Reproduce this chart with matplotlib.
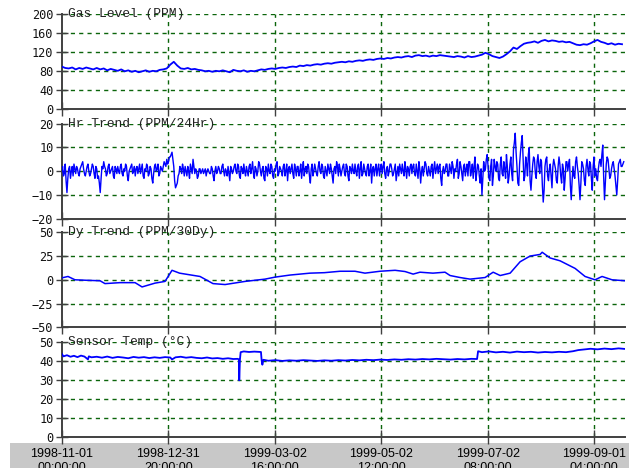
import numpy as np
import pandas as pd
import matplotlib
matplotlib.use('Agg')
from matplotlib import pyplot as plt
from matplotlib import dates as mdates
from matplotlib.patches import Rectangle

START = pd.Timestamp('1998-11-01 00:00:00')
SPAN_DAYS = 321.7

# tick spacing of the original logger software: 60 days 20 hours
TICK_STEP = pd.Timedelta(days=60, hours=20)
N_TICKS = 6

# Gas Level (PPM), one reading every ~2 days
gas_level = [
    90, 87, 86, 88, 84, 87, 85, 88, 86, 84, 87,
    84, 86, 82, 85, 83, 81, 84, 80, 82,
    79, 81, 78, 80, 82, 79, 81, 80, 83, 84,
    86, 94, 100, 92, 86,
    85, 87, 84, 85, 83, 82, 80, 81,
    79, 81, 80, 82, 80, 78, 83, 81, 80, 82, 79, 81, 80,
    82, 84, 83, 85, 86, 85, 87, 88, 87, 89, 90, 89, 92,
    91, 93, 92, 94, 95, 94, 96, 97, 96, 98, 99, 100,
    99, 101, 100, 102, 103, 102, 104, 105, 104, 106, 107, 106,
    108, 107, 109, 110, 109, 111, 112, 110, 113, 114,
    112, 113, 111, 113, 112, 114, 113, 112,
    111, 110, 112, 111, 109, 112, 110, 111, 113, 115,
    119, 116, 112, 110, 108, 111,
    116, 122, 130, 127, 133, 138, 140,
    141, 143, 140, 144, 146, 143, 145, 144, 142, 143, 141, 142,
    139, 136, 135, 137, 136,
    139, 143, 146, 142, 140,
    137, 139, 136, 138, 137,
]

# Hr Trend (PPM/24Hr), readings at 00:00 of each day
hr_trend = [
    0, -2, 3, -9, 1, -3, 2, 3, -1, 1, -2, 2, 4, -1, 0, 3, -2, 1, 2, -3,
    1, -2, -9, 2, 4, 1, -1, 3, 0, 2, -3, 1, 2, -1, 3, -2, 0, 2, -4, 1,
    3, 0, -2, 2, 1, -1, 3, -3, 0, 2, -1, 1, -5, 2, 0, 3, -1, 1, 2, 3,
    5, 4, 6, 8, 2, -7, -5, -1, 1, 3, -2, 0, 2, -3, 1, 5, -1, 0, -2, 1,
    0, -1, 1, 0, 0, -1, 1, -4, 2, 0, 1, -1, 3, -2, 0, 2, -4, 1, 0, 3,
    -1, 2, -3, 1, 3, -2, 0, 2, -1, 4, -3, 1, 0, 3, -2, 2, -4, 1, 3, -1,
    2, -3, 0, 4, -1, 1, -2, 3, 0, -4, 2, 1, -1, 3, -2, 2, 0, -3, 4, 1,
    -1, 2, -5, 3, 0, 1, -2, 4, -1, 2, -3, 0, 3, -1, 1, -5, 2, 4, -2, 1,
    0, 3, -2, 2, -4, 1, 3, -1, 0, 2, -3, 4, -1, 1, -2, 3, 0, -5, 2, 1,
    -2, 3, 1, -1, 4, -3, 2, 0, 3, -2, 1, -4, 2, 3, -1, 0, 4, -3, 1, 2,
    -1, 3, -2, 0, 4, -5, 2, 1, 3, -2, 0, 2, -3, 4, 1, -1, 3, -6, 2, 0,
    3, -2, 1, 4, -3, 0, 5, -1, 2, -4, 3, 1, -2, 4, 0, -3, 6, -1, 2, -5,
    -10, 4, 1, 7, -3, 2, -6, 5, 0, 3, -4, 6, -2, 1, 7, -5, 3, -1, 9, 16,
    2, -6, 8, 15, -4, 6, -2, 10, -8, 3, 5, -3, 7, -1, 4, -13, 2, 6, -4, 3,
    -7, 5, 1, -5, 6, -2, 3, -8, 4, 0, 5, -12, 2, -3, 6, -1, -12, 4, 1, -6,
    5, -2, 3, -8, 6, 1, -4, 4, 2, 11, -12, 3, 5, -3, 1, 4, -2, -10, 3, 5,
    2, 4,
]

# Hr Trend readings at 12:00 of each day
hr_trend_noon = [
    2, -1, -4, -3, 2, 0, -2, 1, 2, -1, 1, 3, 1, -2, 2, 0, -1, 3, -1, 2,
    -3, -5, -3, 1, 2, -2, 2, -1, 1, -2, 2, -1, 0, 2, -1, 1, 3, -2, 0, 2,
    -1, 2, 1, -1, 3, 1, -2, 1, 3, -2, 2, -3, -1, 3, 1, -2, 2, 0, 4, 2,
    3, 6, 7, 5, -4, -6, -2, 2, -1, 1, 2, -2, 0, 3, -1, 2, 1, -3, 1, -1,
    1, 0, -2, 1, -1, 2, -2, 0, -1, 2, -1, 2, 0, 1, -2, -1, 2, -1, 2, 0,
    3, -2, 2, -1, 0, 2, -2, 3, 1, -1, 2, -2, 4, 0, 1, -3, 2, -2, 0, 3,
    -2, 1, 3, -2, 2, 0, 2, -2, 3, 1, -1, 3, -3, 1, 2, -2, 3, 1, -2, 2,
    3, -2, 1, -2, 3, -1, 2, 0, 3, -2, 2, -2, 1, 3, -2, 1, -1, 2, 3, -2,
    2, -1, 3, -2, 2, -1, 0, 3, -2, 3, 1, -2, 3, -1, 2, -2, 3, 1, -2, 3,
    1, -2, 3, 2, -1, 1, -2, 3, 1, -1, 3, -1, -2, 1, 3, -2, 1, 2, -2, 3,
    2, -1, 3, -3, 1, 0, -2, 4, -1, 2, -2, 3, 1, -1, 3, 2, -3, 0, -1, 3,
    -2, 3, -1, 2, 1, 3, -3, 4, -1, 2, -2, 3, 4, -2, 3, 2, -4, 3, -2, 1,
    -3, 0, 5, 2, -4, 5, -2, 2, 4, -3, 3, -1, 4, -3, 2, -2, 6, -4, 12, 8,
    -5, 3, 12, 6, -2, 3, 7, -4, -2, 6, -1, 4, 2, 5, -6, -8, 5, -2, 1, -2,
    2, 3, -4, 2, 3, -5, 1, -3, 4, 3, -6, -4, -2, 4, 2, -6, -5, 3, -4, 2,
    1, 4, -3, 2, -2, -3, 1, 5, 7, -2, -4, 6, 1, -2, 3, 1, -6, -4, 4, 2,
    3,
]

# Dy Trend (PPM/30Dy)
dy_days = [0, 3.6, 7.6, 14, 21.9, 24.7, 33.3, 41.9, 45.9, 53.3, 59, 63,
           67.3, 79, 86.4, 93.3, 104.7, 116.1, 121.8, 130.4, 141.8, 150,
           159, 167.5, 173.2, 181.8, 190.4, 196.1, 200.7, 204.6, 212,
           218.9, 221.8, 227.5, 233.2, 241.8, 246.4, 250.4, 256.1, 261.8,
           267.5, 273.2, 274.4, 278.9, 284.6, 293.2, 298.9, 304.6, 308.6,
           314.3, 321.7]
dy_trend = [2, 3.5, 0, -0.5, -1, -4, -3, -3, -7.5, -3.5, -1.7, 10,
            7, 3.5, -4, -5, -1.7, 0.7, 2.8, 5, 7, 7.5,
            9, 9, 7, 9, 10, 8.7, 6, 8, 7,
            8, 4.5, 2.4, 0.7, 2.4, 8, 4.5, 7, 19,
            25, 26.7, 29, 23, 20, 12, 3.5, 0, 3.5,
            0, -1]

# Sensor Temp (deg C)
temp_days = [0, 1, 3, 5, 7, 9, 11, 13, 15, 15.5, 17,
             20, 23, 26, 29, 32, 35, 38, 41, 44, 47, 50, 53, 56, 59,
             62, 63, 65, 68, 71, 74, 77, 80, 83, 86, 89, 92, 95, 98,
             100.5, 101.2, 101.4, 101.8, 102.2, 104, 107, 110, 113.8, 114.2, 114.6, 115.2,
             118, 122, 126, 130, 134, 138, 142, 146, 150, 154, 158, 162, 166, 170,
             174, 178, 182, 186, 190, 194, 198, 202, 206, 210, 214, 218, 222, 226, 230, 234,
             237.2, 237.8, 240, 244, 248, 252, 256, 260, 264, 268, 272, 276, 280, 284,
             288, 292, 295, 298, 302, 306, 310, 314, 318, 321.7]
sensor_temp = [44.0, 42.6, 43.2, 42.4, 42.9, 42.2, 43.0, 42.5, 41.0, 42.6, 42.1,
               42.4, 41.9, 42.5, 41.8, 42.3, 42.0, 41.6, 42.3, 41.9, 42.2, 41.7, 42.1, 41.8, 42.2,
               42.0, 41.0, 42.1, 42.4, 41.9, 42.2, 41.8, 41.6, 42.0, 41.5, 41.7, 41.3, 41.6, 41.2,
               41.3, 41.0, 30.0, 41.0, 44.8, 45.2, 44.9, 45.1, 44.9, 40.4, 38.2, 40.8,
               40.3, 40.6, 40.2, 40.5, 40.3, 40.6, 40.4, 40.2, 40.5, 40.3, 40.6, 40.4, 40.7, 40.5,
               40.8, 40.6, 40.9, 40.7, 41.0, 40.8, 41.1, 40.9, 41.2, 41.0, 41.3, 41.1, 40.9, 41.2, 41.0, 41.3,
               41.2, 45.3, 44.8, 45.2, 44.7, 45.0, 44.6, 45.1, 44.8, 45.0, 44.6, 44.9, 44.7, 45.0,
               44.8, 45.3, 45.9, 46.2, 46.6, 46.3, 46.7, 46.4, 46.8, 46.5]

titles = ['Gas Level (PPM)', 'Hr Trend (PPM/24Hr)', 'Dy Trend (PPM/30Dy)',
          'Sensor Temp (\u00b0C)']
yticks = [[0, 40, 80, 120, 160, 200], [-20, -10, 0, 10, 20],
          [-50, -25, 0, 25, 50], [0, 10, 20, 30, 40, 50]]

GRID = '#0b650b'
AXIS = '#404040'


def to_dates(days):
    return START + pd.to_timedelta(np.asarray(days, dtype=float), unit='D')


def style_panel(ax, ticks, title, last=False):
    xt = [START + k * TICK_STEP for k in range(N_TICKS)]
    ax.set_ylim(ticks[0], ticks[-1])
    ax.set_xlim(to_dates([0, SPAN_DAYS]))
    ax.set_yticks(ticks)
    ax.set_xticks(xt)
    ax.xaxis.set_major_formatter(mdates.DateFormatter('%Y-%m-%d\n%H:%M:%S'))
    for y in ticks[1:]:
        ax.axhline(y, color=GRID, lw=1, ls=(0, (3, 3)), zorder=0)
    for t in xt[1:]:
        ax.axvline(t, color=GRID, lw=1, ls=(0, (3, 3)), zorder=0)
    for s in ['top', 'right']:
        ax.spines[s].set_visible(False)
    for s in ['left', 'bottom']:
        ax.spines[s].set_color(AXIS)
        ax.spines[s].set_linewidth(1.4)
    ax.tick_params(axis='y', direction='inout', length=9, width=1, color=AXIS,
                   pad=1.5, labelsize=8.6, labelcolor='#111111')
    ax.tick_params(axis='x', direction='inout', length=10, width=1, color=AXIS,
                   pad=2.5, labelsize=9, labelbottom=last)
    for lab in ax.get_yticklabels():
        lab.set_family('DejaVu Sans Mono')
    for lab in ax.get_xticklabels():
        lab.set_family('Liberation Sans')
        lab.set_linespacing(1.25)
    ax.text(0.011, 1.0, title, transform=ax.transAxes, ha='left', va='center',
            family='Liberation Mono', fontsize=9.4, color='#222222', zorder=5)


fig = plt.figure(figsize=(6.29, 4.68), dpi=100)
fig.patches.append(Rectangle((10 / 629, 0), 1, 25 / 468, transform=fig.transFigure,
                             facecolor='#c8c8c8', edgecolor='none', zorder=-1))

left = 61.7 / 629
width = (625 - 61.7) / 629
height = 95 / 468
bottoms = [(468 - 109.3) / 468, (468 - 218.7) / 468, (468 - 327.3) / 468,
           (468 - 437.3) / 468]

gas_days = np.linspace(0, 320, len(gas_level))

# merge midnight and noon readings of the hourly trend
hr_days = np.empty(len(hr_trend) + len(hr_trend_noon))
hr_vals = np.empty_like(hr_days)
hr_days[0::2] = np.arange(len(hr_trend))
hr_days[1::2] = np.arange(len(hr_trend_noon)) + 0.5
hr_vals[0::2] = hr_trend
hr_vals[1::2] = hr_trend_noon

series = [(gas_days, gas_level, 1.3), (hr_days, hr_vals, 1.0),
          (dy_days, dy_trend, 1.1), (temp_days, sensor_temp, 1.3)]

for i, (days, vals, lw) in enumerate(series):
    ax = fig.add_axes([left, bottoms[i], width, height])
    ax.plot(to_dates(days), vals, color='#0000ff', lw=lw, zorder=3)
    style_panel(ax, yticks[i], titles[i], last=(i == 3))

plt.savefig('out.png', dpi=100)
